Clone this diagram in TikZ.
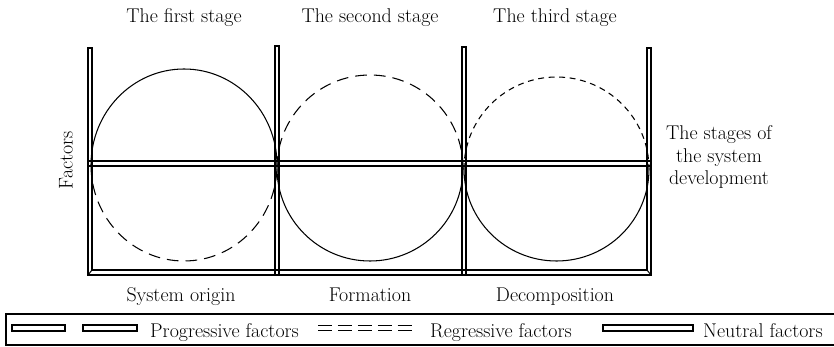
\documentclass[tikz,border=0pt]{standalone}
\usepackage{tikz}
\usetikzlibrary{positioning}
\definecolor{stageblack}{HTML}{000000}

\tikzset{
  bar/.style={draw=stageblack,line width=0.9pt},
  solidarc/.style={stageblack,line width=0.9pt},
  longdash/.style={stageblack,line width=0.9pt,dash pattern=on 10pt off 6pt},
  shortdash/.style={stageblack,line width=0.9pt,dash pattern=on 5pt off 4pt},
  lbl/.style={font=\fontsize{17}{19}\selectfont,inner sep=0pt,anchor=base},
}

\begin{document}
\begin{tikzpicture}[x=0.03cm,y=-0.03cm]
  \useasboundingbox (0,0) rectangle (834,347);
  \draw[bar] (88,48) -- (88,275) -- (651,275) -- (651,48) -- (647,48) -- (647,270) -- (92,270) -- (92,48) -- cycle;
  \draw[bar] (88,275) -- (92,270) (651,275) -- (647,270);
  \draw[bar] (275,46) rectangle (279,275);
  \draw[bar] (462,47) rectangle (466,275);
  \draw[bar] (88,161) rectangle (651,166);
  \draw[solidarc] (91,165) arc[start angle=180,end angle=360,x radius=93,y radius=96];
  \draw[longdash] (91,165) arc[start angle=180,end angle=0,x radius=93,y radius=96];
  \draw[longdash] (277,168) arc[start angle=180,end angle=360,x radius=93,y radius=93];
  \draw[solidarc] (277,168) arc[start angle=180,end angle=0,x radius=93,y radius=93];
  \draw[shortdash] (464,169) arc[start angle=180,end angle=360,x radius=92.5,y radius=92];
  \draw[solidarc] (464,169) arc[start angle=180,end angle=0,x radius=92.5,y radius=92];
  \node[lbl] (stage1) at (184,23) {The first stage};
  \node[lbl] (stage2) at (370,23) {The second stage};
  \node[lbl] (stage3) at (555,23) {The third stage};
  \node[lbl] (origin) at (181,302) {System origin};
  \node[lbl] (formation) at (370,302) {Formation};
  \node[lbl] (decomp) at (555,302) {Decomposition};
  \node[lbl,anchor=center,align=center] (stages) at (719,157) {The stages of\\the system\\development};
  \node[lbl,anchor=center,rotate=90] (factors) at (66,160) {Factors};
  \draw[bar] (834,314) -| (6,345) -- (834,345);
  \draw[bar] (12,325) rectangle (65,331);
  \draw[bar] (83,325) rectangle (137,331);
  \node[lbl,anchor=base west] (prog) at (150,338) {Progressive factors};
  \draw[stageblack,line width=0.9pt,double=white,double distance=3.8pt,dash pattern=on 12pt off 5pt] (318,328) -- (417,328);
  \node[lbl,anchor=base west] (regr) at (430,338) {Regressive factors};
  \draw[bar] (603,325) rectangle (693,331);
  \node[lbl,anchor=base west] (neut) at (703,338) {Neutral factors};
\end{tikzpicture}
\end{document}
